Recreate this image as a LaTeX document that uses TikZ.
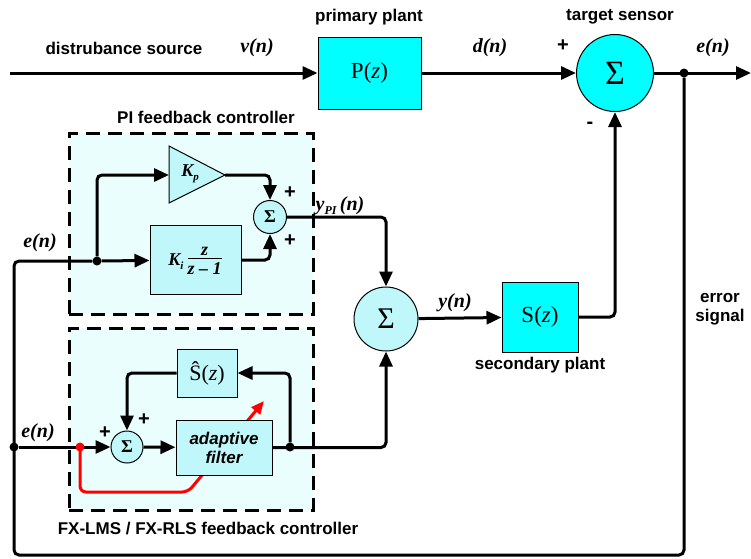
\documentclass[tikz,border=0pt]{standalone}
\usepackage{fontspec}
\setmainfont{Liberation Sans}
\newfontfamily\serifb{Liberation Serif}
\usetikzlibrary{arrows.meta}
\definecolor{cyA}{HTML}{00FFFF}
\definecolor{cyL}{HTML}{BFF7FA}
\definecolor{cyB}{HTML}{EBFEFE}
\tikzset{
  ln/.style={line width=3pt, rounded corners=5pt},
  arr/.style={ln, -{Triangle[length=15pt,width=13pt]}},
  redarr/.style={line width=3pt, rounded corners=6pt, red, -{Triangle[length=13pt,width=11pt]}},
  jdot/.style={circle, fill, inner sep=0pt, minimum size=9pt},
  cbox/.style={draw, line width=1pt, fill=cyA, inner sep=0pt},
  lbox/.style={draw, line width=1pt, fill=cyL, inner sep=0pt},
  dbox/.style={draw, line width=3pt, dash pattern=on 14pt off 8pt, fill=cyB, inner sep=0pt},
  lbl/.style={font=\bfseries\fontsize{17}{19}\selectfont, inner sep=0pt},
  mlbl/.style={font=\serifb\bfseries\itshape\fontsize{20}{22}\selectfont, inner sep=0pt},
  pm/.style={font=\bfseries\fontsize{20}{20}\selectfont, inner sep=0pt},
}
\begin{document}
\begin{tikzpicture}[x=1pt,y=-1pt]
\useasboundingbox (0,0) rectangle (751,558);
% dashed containers
\node[dbox, minimum width=244, minimum height=181] (PIbox) at (191,223.5) {};
\node[dbox, minimum width=244, minimum height=182] (FXbox) at (191,419) {};
\node[lbl] (PIt) at (206,117) {PI feedback controller};
\node[lbl] (FXt) at (208,528) {FX-LMS / FX-RLS feedback controller};
% top row
\node[cbox, minimum width=103, minimum height=72] (P) at (369.5,73) {\serifb\fontsize{23}{25}\selectfont P(\textit{z})};
\node[lbl] (Pt) at (369,17) {primary plant};
\node[circle, draw, line width=1pt, fill=cyA, minimum size=77pt, inner sep=0pt] (T) at (615,73) {\serifb\fontsize{34}{34}\selectfont Σ};
\node[lbl] (Tt) at (620,17) {target sensor};
\coordinate (in) at (10,73);
\coordinate (out) at (751,73);
\node[jdot] (edot) at (684,73) {};
\node[lbl] (dist) at (124,48) {distrubance source};
\node[mlbl] (vn) at (257,48) {v(n)};
\node[mlbl] (dn) at (490,48) {d(n)};
\node[mlbl] (en1) at (713,48) {e(n)};
\node[pm] (tp) at (563,46) {+};
\node[pm] (tm) at (590,125) {-};
\draw[arr] (in) -- (P);
\draw[arr] (P) -- (T);
\draw[arr] (T) -- (out);
% PI controller
\node[jdot] (jpi) at (97,261) {};
\node[jdot] (jfx) at (14,447) {};
\draw[ln] (edot) -- (684,555) -- (14,555) -- (14,261) -- (jpi);
\node[lbl, align=center] (err) at (720,309) {error\\signal};
\node[mlbl] (en2) at (40,243) {e(n)};
\draw[fill=cyL, line width=1pt] (169,146) -- (225,175) -- (169,203) -- cycle;
\coordinate (kpL) at (169,175);
\coordinate (kpR) at (225,175);
\node[font=\serifb\bfseries\itshape\fontsize{18}{20}\selectfont] (Kp) at (190,174) {K\raisebox{-4pt}{\fontsize{11}{11}\selectfont p}};
\node[lbox, minimum width=91, minimum height=69] (Ki) at (195.5,260) {};
\node[font=\serifb\bfseries\itshape\fontsize{18}{20}\selectfont] (Kil) at (195,261) {K\raisebox{-4pt}{\fontsize{11}{11}\selectfont i}\hspace{4pt}\begin{tabular}{@{}c@{}}z\\[-3pt]\hline\rule{0pt}{16pt}z – 1\end{tabular}};
\node[circle, draw, line width=1pt, fill=cyL, minimum size=33pt, inner sep=0pt] (s1) at (270,217) {\serifb\bfseries\fontsize{18}{18}\selectfont Σ};
\node[pm] (p1) at (290,193) {+};
\node[pm] (p2) at (290,241) {+};
\draw[arr] (jpi) |- (kpL);
\draw[arr] (jpi) -- (Ki);
\draw[arr] (kpR) -| (s1.north);
\draw[arr] (Ki.east) -| (s1.south);
% main sum and secondary plant
\node[circle, draw, line width=1pt, fill=cyL, minimum size=64pt, inner sep=0pt] (S2) at (386,319) {\serifb\fontsize{30}{30}\selectfont Σ};
\node[cbox, minimum width=76, minimum height=70] (Sz) at (540,317) {\serifb\fontsize{23}{25}\selectfont S(\textit{z})};
\node[lbl] (St) at (540,365) {secondary plant};
\node[mlbl] (ypi) at (340,206) {y\raisebox{-4pt}{\fontsize{12}{12}\selectfont PI}\,(n)};
\node[mlbl] (yn) at (455,303) {y(n)};
\draw[arr] (s1.east) -| (S2.north);
\draw[arr] (S2) -- (Sz);
\draw[arr] (Sz.east) -| (T.south);
% FX controller
\node[mlbl] (en3) at (38,433) {e(n)};
\coordinate (rdot) at (80,447);
\draw[redarr] (rdot) -- (80,492) -- (188,492) -- (264,401);
\node[lbox, minimum width=60, minimum height=48] (Sh) at (207,373) {\serifb\fontsize{22}{24}\selectfont Ŝ(\textit{z})};
\node[lbox, minimum width=96, minimum height=55, align=center, font=\bfseries\itshape\fontsize{17}{19}\selectfont] (AF) at (224,447.5) {adaptive\\filter};
\node[circle, draw, line width=1pt, fill=cyL, minimum size=32pt, inner sep=0pt] (s3) at (127,447) {\serifb\bfseries\fontsize{18}{18}\selectfont Σ};
\node[pm] (p3) at (105,433) {+};
\node[pm] (p4) at (144,420) {+};
\node[jdot] (jaf) at (290,447) {};
\draw[arr] (jfx) -- (s3.west);
\node[jdot, fill=red] (rd) at (rdot) {};
\draw[arr] (s3) -- (AF);
\draw[arr] (AF.east) -| (S2.south);
\draw[arr] (jaf) |- (Sh.east);
\draw[arr] (Sh.west) -| (s3.north);
\end{tikzpicture}
\end{document}
